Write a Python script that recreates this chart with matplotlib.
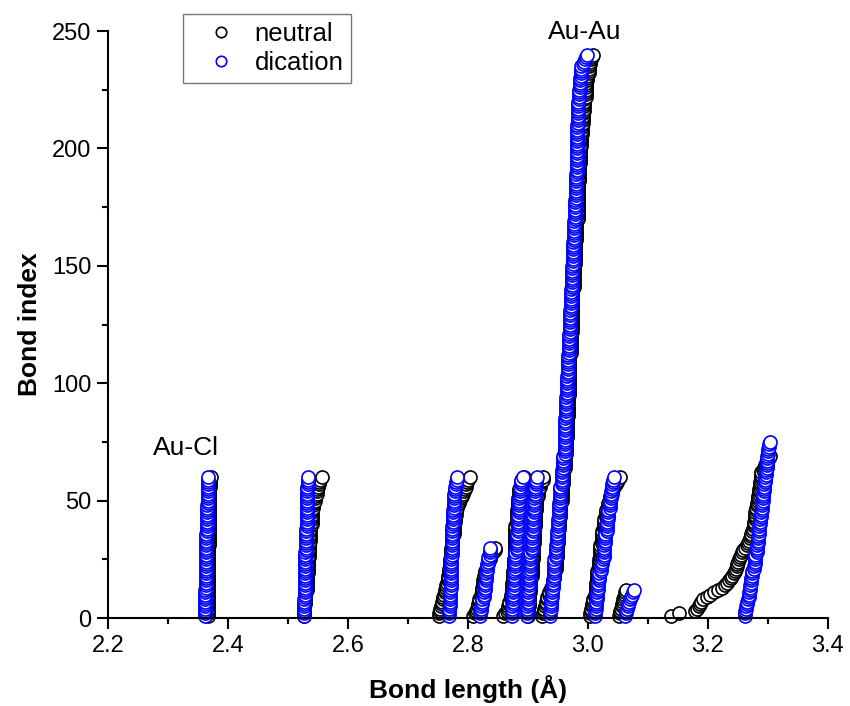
import numpy as np
import matplotlib
matplotlib.use('Agg')
import matplotlib.pyplot as plt
from matplotlib.ticker import MultipleLocator

plt.rcParams['font.family'] = ['Liberation Sans', 'DejaVu Sans']

# sorted bond lengths per bond group, stored as (length in A, number of bonds)
# neutral cluster
neutral_g1 = [(2.366, 15), (2.367, 15), (2.368, 15), (2.369, 10), (2.370, 4), (2.371, 1)]
neutral_g2 = [(2.527, 5), (2.529, 6), (2.531, 7), (2.533, 7), (2.535, 7), (2.537, 7),
              (2.540, 7), (2.542, 3), (2.545, 3), (2.548, 3), (2.550, 1), (2.551, 1),
              (2.552, 1), (2.553, 1), (2.557, 1)]
neutral_g3 = [(2.751, 1), (2.752, 1), (2.753, 1), (2.754, 1), (2.755, 1), (2.756, 1),
              (2.757, 1), (2.758, 1), (2.759, 1), (2.760, 1), (2.762, 2), (2.764, 2),
              (2.765, 1), (2.767, 3), (2.768, 3), (2.770, 4), (2.772, 5), (2.774, 5),
              (2.776, 5), (2.778, 3), (2.780, 3), (2.782, 2), (2.785, 2), (2.788, 1),
              (2.790, 1), (2.792, 1), (2.794, 1), (2.795, 1), (2.796, 1), (2.797, 1),
              (2.798, 1), (2.800, 1), (2.803, 1)]
neutral_g4 = [(2.809, 1), (2.811, 1), (2.813, 1), (2.815, 1), (2.817, 2), (2.819, 2),
              (2.821, 2), (2.823, 3), (2.825, 3), (2.827, 2), (2.829, 2), (2.831, 2),
              (2.833, 2), (2.836, 2), (2.839, 1), (2.842, 1), (2.845, 2)]
neutral_g5 = [(2.859, 1), (2.862, 1), (2.865, 1), (2.867, 2), (2.869, 2), (2.871, 3),
              (2.873, 5), (2.875, 5), (2.877, 5), (2.878, 7), (2.879, 7), (2.881, 7),
              (2.883, 5), (2.885, 4), (2.888, 3), (2.893, 2)]
neutral_g6 = [(2.900, 4), (2.902, 6), (2.904, 7), (2.906, 7), (2.908, 7), (2.910, 7),
              (2.912, 7), (2.914, 6), (2.917, 4), (2.920, 3), (2.925, 2)]
neutral_g7 = [(2.923, 1), (2.925, 1), (2.926, 1), (2.927, 1), (2.928, 1), (2.930, 2),
              (2.932, 2), (2.935, 2), (2.938, 2), (2.941, 3), (2.944, 4), (2.946, 5),
              (2.948, 6), (2.950, 6), (2.952, 5), (2.954, 7), (2.956, 7), (2.959, 7),
              (2.961, 6), (2.964, 7), (2.965, 9), (2.966, 9), (2.968, 9), (2.969, 9),
              (2.971, 9), (2.973, 10), (2.974, 9), (2.976, 10), (2.978, 10), (2.980, 9),
              (2.983, 9), (2.984, 7), (2.985, 8), (2.987, 7), (2.989, 5), (2.990, 5),
              (2.992, 5), (2.993, 3), (2.994, 3), (2.996, 4), (2.997, 3), (2.999, 3),
              (3.001, 2), (3.002, 2), (3.003, 1), (3.004, 1), (3.005, 1), (3.006, 1),
              (3.008, 1)]
neutral_g8 = [(3.003, 2), (3.005, 2), (3.007, 2), (3.009, 2), (3.011, 2), (3.013, 5),
              (3.015, 5), (3.018, 5), (3.020, 6), (3.023, 6), (3.027, 5), (3.030, 4),
              (3.033, 3), (3.036, 3), (3.040, 3), (3.043, 1), (3.046, 1), (3.048, 1),
              (3.050, 1), (3.053, 1)]
neutral_g9 = [(3.052, 1), (3.053, 1), (3.054, 1), (3.055, 1), (3.056, 1), (3.057, 1),
              (3.058, 1), (3.059, 1), (3.060, 1), (3.061, 1), (3.062, 1), (3.064, 1)]
neutral_g10 = [(3.139, 1), (3.151, 1), (3.179, 1), (3.182, 1), (3.185, 1), (3.187, 1),
               (3.189, 1), (3.192, 1), (3.198, 1), (3.204, 1), (3.210, 1), (3.217, 1),
               (3.224, 1), (3.229, 1), (3.232, 1), (3.235, 1), (3.238, 1), (3.240, 1),
               (3.243, 1), (3.245, 1), (3.247, 1), (3.248, 1), (3.249, 1), (3.250, 1),
               (3.251, 1), (3.253, 1), (3.255, 1), (3.257, 1), (3.259, 1), (3.262, 1),
               (3.265, 1), (3.267, 1), (3.268, 1), (3.270, 1), (3.271, 1), (3.272, 1),
               (3.273, 1), (3.275, 1), (3.276, 1), (3.277, 2), (3.278, 2), (3.279, 2),
               (3.280, 2), (3.282, 2), (3.284, 3), (3.285, 3), (3.286, 3), (3.288, 2),
               (3.289, 2), (3.291, 1), (3.293, 1), (3.295, 1), (3.297, 1), (3.299, 1),
               (3.301, 1), (3.303, 1)]

# dication cluster
dication_g1 = [(2.362, 12), (2.363, 12), (2.364, 12), (2.365, 12), (2.366, 10), (2.367, 2)]
dication_g2 = [(2.527, 8), (2.528, 10), (2.529, 10), (2.530, 10), (2.531, 10), (2.532, 8),
               (2.533, 3), (2.534, 1)]
dication_g3 = [(2.769, 4), (2.770, 8), (2.771, 8), (2.772, 6), (2.773, 6), (2.774, 7),
               (2.775, 7), (2.776, 4), (2.777, 3), (2.778, 3), (2.780, 2), (2.782, 2)]
dication_g4 = [(2.820, 2), (2.822, 3), (2.824, 3), (2.826, 3), (2.828, 4), (2.830, 4),
               (2.832, 4), (2.834, 3), (2.836, 3), (2.837, 1)]
dication_g5 = [(2.873, 5), (2.875, 7), (2.877, 8), (2.879, 8), (2.881, 8), (2.883, 8),
               (2.885, 7), (2.887, 5), (2.889, 3), (2.891, 1)]
dication_g6 = [(2.898, 5), (2.900, 7), (2.902, 8), (2.904, 8), (2.906, 8), (2.908, 8),
               (2.910, 7), (2.912, 5), (2.914, 3), (2.915, 1)]
dication_g7 = [(2.937, 3), (2.938, 2), (2.939, 3), (2.940, 4), (2.941, 4), (2.943, 4),
               (2.944, 5), (2.946, 6), (2.948, 6), (2.950, 5), (2.952, 7), (2.954, 7),
               (2.957, 7), (2.959, 6), (2.961, 7), (2.962, 9), (2.963, 9), (2.965, 9),
               (2.966, 9), (2.968, 9), (2.970, 10), (2.971, 9), (2.973, 10), (2.975, 10),
               (2.977, 9), (2.979, 9), (2.980, 11), (2.981, 11), (2.982, 10), (2.984, 10),
               (2.985, 5), (2.987, 5), (2.989, 5), (2.991, 1), (2.993, 1), (2.995, 1),
               (2.997, 1), (2.999, 1)]
dication_g8 = [(3.011, 3), (3.013, 4), (3.015, 4), (3.017, 4), (3.019, 4), (3.021, 3),
               (3.023, 2), (3.025, 1), (3.027, 6), (3.029, 5), (3.031, 5), (3.034, 5),
               (3.036, 4), (3.038, 4), (3.040, 3), (3.042, 2), (3.044, 1)]
dication_g9 = [(3.062, 1), (3.063, 1), (3.064, 1), (3.065, 1), (3.066, 1), (3.067, 1),
               (3.068, 1), (3.070, 1), (3.071, 1), (3.073, 1), (3.075, 1), (3.077, 1)]
dication_g10 = [(3.261, 1), (3.262, 2), (3.264, 2), (3.265, 2), (3.267, 1), (3.268, 3),
                (3.270, 3), (3.272, 3), (3.274, 3), (3.276, 2), (3.278, 1), (3.279, 4),
                (3.281, 4), (3.283, 4), (3.285, 4), (3.287, 3), (3.289, 3), (3.290, 4),
                (3.291, 4), (3.293, 4), (3.295, 3), (3.297, 3), (3.298, 3), (3.299, 3),
                (3.300, 3), (3.302, 2), (3.303, 1)]

neutral_groups = [neutral_g1, neutral_g2, neutral_g3, neutral_g4, neutral_g5,
                  neutral_g6, neutral_g7, neutral_g8, neutral_g9, neutral_g10]
dication_groups = [dication_g1, dication_g2, dication_g3, dication_g4, dication_g5,
                   dication_g6, dication_g7, dication_g8, dication_g9, dication_g10]


def expand(group):
    """turn (length, count) pairs into sorted lengths and bond index 1..n"""
    lengths = np.repeat([v for v, c in group], [c for v, c in group])
    index = np.arange(1, len(lengths) + 1)
    return lengths, index


fig = plt.figure(figsize=(8.5, 7.06), dpi=100)
ax = fig.add_axes([0.127, 0.1246, 0.847, 0.8314])

for groups, color, name in [(neutral_groups, 'black', 'neutral'),
                            (dication_groups, '#0000ff', 'dication')]:
    for i, group in enumerate(groups):
        x, y = expand(group)
        ax.plot(x, y, 'o', ls='none', ms=9.4, mfc='white', mec=color, mew=1.2,
                label=name if i == 0 else None, clip_on=False)

ax.set_xlim(2.2, 3.4)
ax.set_ylim(0, 250)
ax.xaxis.set_major_locator(MultipleLocator(0.2))
ax.xaxis.set_minor_locator(MultipleLocator(0.1))
ax.yaxis.set_major_locator(MultipleLocator(50))
ax.yaxis.set_minor_locator(MultipleLocator(25))
ax.xaxis.set_major_formatter(matplotlib.ticker.FormatStrFormatter('%.1f'))

for side in ['top', 'right']:
    ax.spines[side].set_visible(False)
for side in ['left', 'bottom']:
    ax.spines[side].set_linewidth(1.5)
ax.tick_params(which='major', direction='out', length=8, width=1.5, labelsize=17, pad=4)
ax.tick_params(which='minor', direction='out', length=4.5, width=1.5)

ax.set_xlabel('Bond length (Å)', fontsize=19, fontweight='bold', labelpad=13)
ax.set_ylabel('Bond index', fontsize=19, fontweight='bold', labelpad=7)

ax.text(2.995, 249.5, 'Au-Au', fontsize=19, ha='center', va='center')
ax.text(2.33, 72.5, 'Au-Cl', fontsize=19, ha='center', va='center')

leg = ax.legend(loc='upper left', bbox_to_anchor=(0.215, 0.980), bbox_transform=fig.transFigure,
                borderaxespad=0, fontsize=18.5, frameon=True, fancybox=False,
                edgecolor='#555555', handlelength=2.4, handletextpad=0.1,
                borderpad=0.3, labelspacing=0.2, markerscale=0.8, numpoints=1)
leg.get_frame().set_linewidth(1.0)

fig.savefig('out.png', dpi=100)
